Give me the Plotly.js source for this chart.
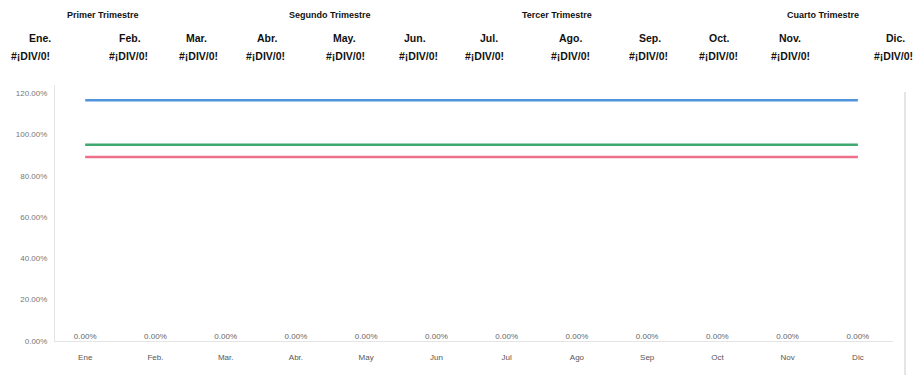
<!DOCTYPE html>
<html>
<head>
<meta charset="utf-8">
<script src="https://cdn.plot.ly/plotly-3.0.1.min.js"></script>
<style>html,body{margin:0;padding:0;background:#fff;}#chart{width:917px;height:381px;}</style>
</head>
<body>
<div id="chart"></div>
<script>
// Data
const months = ["Ene","Feb.","Mar.","Abr.","May","Jun","Jul","Ago","Sep","Oct","Nov","Dic"];
const serieAzul  = [1.165,1.165,1.165,1.165,1.165,1.165,1.165,1.165,1.165,1.165,1.165,1.165];
const serieVerde = [0.95,0.95,0.95,0.95,0.95,0.95,0.95,0.95,0.95,0.95,0.95,0.95];
const serieRoja  = [0.89,0.89,0.89,0.89,0.89,0.89,0.89,0.89,0.89,0.89,0.89,0.89];
const serieCero  = [0,0,0,0,0,0,0,0,0,0,0,0];
const quarterLabels = ["Primer Trimestre","Segundo Trimestre","Tercer Trimestre","Cuarto Trimestre"];
const headerMonths = ["Ene.","Feb.","Mar.","Abr.","May.","Jun.","Jul.","Ago.","Sep.","Oct.","Nov.","Dic."];
const headerValues = ["#¡DIV/0!","#¡DIV/0!","#¡DIV/0!","#¡DIV/0!","#¡DIV/0!","#¡DIV/0!","#¡DIV/0!","#¡DIV/0!","#¡DIV/0!","#¡DIV/0!","#¡DIV/0!","#¡DIV/0!"];

// Header positions (pixels)
const quarterX = [103,330,557,823];
const monthX = [40,130,196,267,344,415,489,570,650,719,790,895];
const valueX = [30,128,198,265,345,418,484,570,648,718,790,893];

const W = 917, H = 381, L = 55, R = 24, T = 85, B = 40;
const pw = W - L - R, ph = H - T - B, bottomPx = H - B;
const px2x = p => (p - L) / pw;
const px2y = p => (bottomPx - p) / ph;
const hdrFont = s => ({family:'Liberation Sans, Arial', size:s, color:'#111'});

const annotations = [];
quarterLabels.forEach((t,i)=>annotations.push({xref:'paper',yref:'paper',x:px2x(quarterX[i]),y:px2y(15),
  text:'<b>'+t+'</b>',showarrow:false,xanchor:'center',yanchor:'middle',font:hdrFont(9)}));
headerMonths.forEach((t,i)=>annotations.push({xref:'paper',yref:'paper',x:px2x(monthX[i]),y:px2y(38),
  text:'<b>'+t+'</b>',showarrow:false,xanchor:'center',yanchor:'middle',font:hdrFont(10.5)}));
headerValues.forEach((t,i)=>annotations.push({xref:'paper',yref:'paper',x:px2x(valueX[i]),y:px2y(56),
  text:'<b>'+t+'</b>',showarrow:false,xanchor:'center',yanchor:'middle',font:hdrFont(10.5)}));

const lineTrace = (y,color)=>({x:months,y:y,type:'scatter',mode:'lines',line:{color:color,width:2.5},hoverinfo:'skip'});
const data = [
  lineTrace(serieAzul,'#4f94dc'),
  lineTrace(serieVerde,'#3fa86f'),
  lineTrace(serieRoja,'#ec6f8c'),
  {x:months,y:serieCero,type:'scatter',mode:'text',text:serieCero.map(v=>(v*100).toFixed(2)+'%'),
   textposition:'top center',textfont:{family:'Liberation Sans, Arial',size:8,color:'#666'},hoverinfo:'skip'}
];

const layout = {
  width:W,height:H,
  margin:{l:L,r:R,t:T,b:B},
  paper_bgcolor:'#fff',plot_bgcolor:'#fff',
  showlegend:false,
  font:{family:'Liberation Sans, Arial',color:'#666'},
  xaxis:{type:'category',range:[-0.43,11.5],showgrid:false,zeroline:false,showline:true,linecolor:'#e4e4e4',linewidth:1,
    ticks:'',ticklabelstandoff:8,tickfont:{size:8,color:'#555'},fixedrange:true},
  yaxis:{range:[0,1.239],tickvals:[0,0.2,0.4,0.6,0.8,1.0,1.2],tickformat:'.2%',showgrid:false,zeroline:false,
    showline:true,linecolor:'#e4e4e4',linewidth:1,ticks:'',ticklabelstandoff:5,tickfont:{size:8,color:'#777'},fixedrange:true},
  annotations:annotations,
  shapes:[{type:'line',xref:'paper',yref:'paper',x0:px2x(905),x1:px2x(905),y0:px2y(375),y1:px2y(92),line:{color:'#dddddd',width:1.5}}]
};
Plotly.newPlot('chart',data,layout,{displayModeBar:false,staticPlot:true});
</script>
</body>
</html>
